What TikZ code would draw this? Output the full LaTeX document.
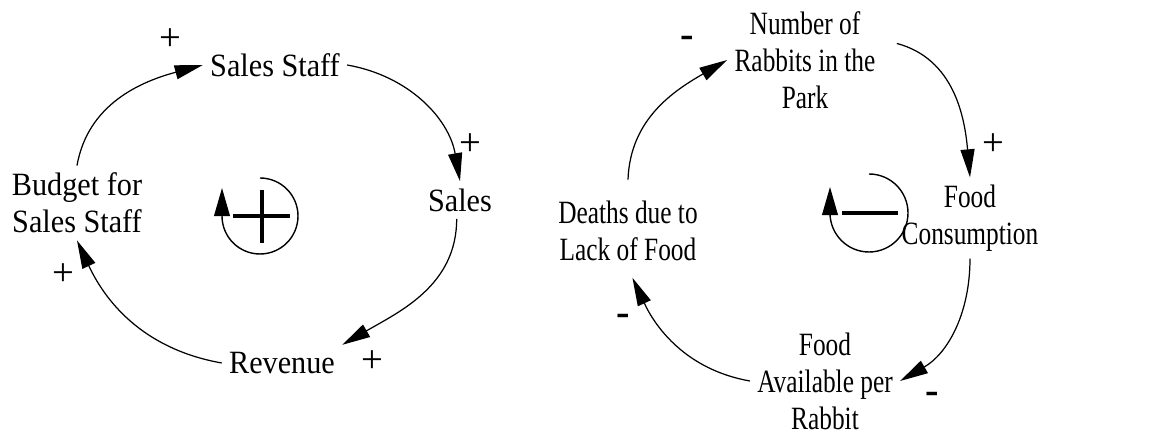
\documentclass[tikz,border=0pt]{standalone}
\usepackage{fontspec}
\setmainfont{Liberation Serif}
\newfontfamily\lfont[FakeStretch=0.93]{Liberation Serif}
\newfontfamily\rfont[FakeStretch=0.78]{Liberation Serif}
\usetikzlibrary{arrows.meta}

\begin{document}
\begin{tikzpicture}[x=0.02cm, y=0.02cm,
        font=\fontsize{17}{21}\selectfont, >={Triangle[length=16pt,width=8pt]},
        var/.style={align=center, inner sep=4pt, font=\lfont\fontsize{18.5}{21}\selectfont},
        rvar/.style={align=center, inner sep=4pt, font=\rfont\fontsize{18.5}{21}\selectfont},
        link/.style={->, line width=0.7pt},
        pol/.style={inner sep=0pt, font=\fontsize{22}{22}\selectfont},
        neg/.style={inner sep=0pt, font=\bfseries\fontsize{23}{23}\selectfont},
        loopsym/.style={-{Triangle[length=16pt,width=9pt]}, line width=0.8pt},
        sign/.style={line width=1.8pt}]
    \useasboundingbox (0,0) rectangle (1150,435);
    % reinforcing loop
    \node[var] (staff)   at (275,370) {Sales Staff};
    \node[var] (sales)   at (460,235) {Sales};
    \node[var] (revenue) at (282,72)  {Revenue};
    \node[var] (budget)  at (77,232)  {Budget for\\Sales Staff};
    \draw[link] (budget.north) to[out=80,in=195] (staff.west);
    \draw[link] (staff.east) to[out=-10,in=100] (sales.north);
    \draw[link] (sales.260) to[out=-90,in=30] (revenue.north east);
    \draw[link] (revenue.west) to[out=170,in=-65] (budget.south);
    \node[pol] (p1) at (170,395) {+};
    \node[pol] (p2) at (470,290) {+};
    \node[pol] (p3) at (372,73)  {+};
    \node[pol] (p4) at (63,160)  {+};
    \draw[loopsym] (260,257) arc[start angle=90, end angle=-180, radius=38] -- ++(0,28);
    \draw[sign] (233,219) -- (290,219);
    \draw[sign] (262,192) -- (262,245);
    % balancing loop
    \node[rvar] (rabbits)     at (805,375) {Number of\\Rabbits in the\\Park};
    \node[rvar] (consumption) at (970,217) {Food\\Consumption};
    \node[rvar] (available)   at (825,54)  {Food\\Available per\\Rabbit};
    \node[rvar] (deaths)      at (628,204) {Deaths due to\\Lack of Food};
    \draw[link] ([yshift=8pt]deaths.north) to[out=88,in=210] (rabbits.west);
    \draw[link] ([xshift=8pt]rabbits.12) to[out=-15,in=95] (consumption.north);
    \draw[link] (consumption.south) to[out=-90,in=30] (available.east);
    \draw[link, shorten >=6pt] (available.west) to[out=170,in=-65] (deaths.south);
    \node[neg] (m1) at (687,393) {-};
    \node[pol] (p5) at (993,290) {+};
    \node[neg] (m2) at (932,37)  {-};
    \node[neg] (m3) at (623,115) {-};
    \draw[loopsym] (869,261) arc[start angle=90, end angle=-180, radius=39] -- ++(0,26);
    \draw[sign] (842,222) -- (898,222);
\end{tikzpicture}
\end{document}
